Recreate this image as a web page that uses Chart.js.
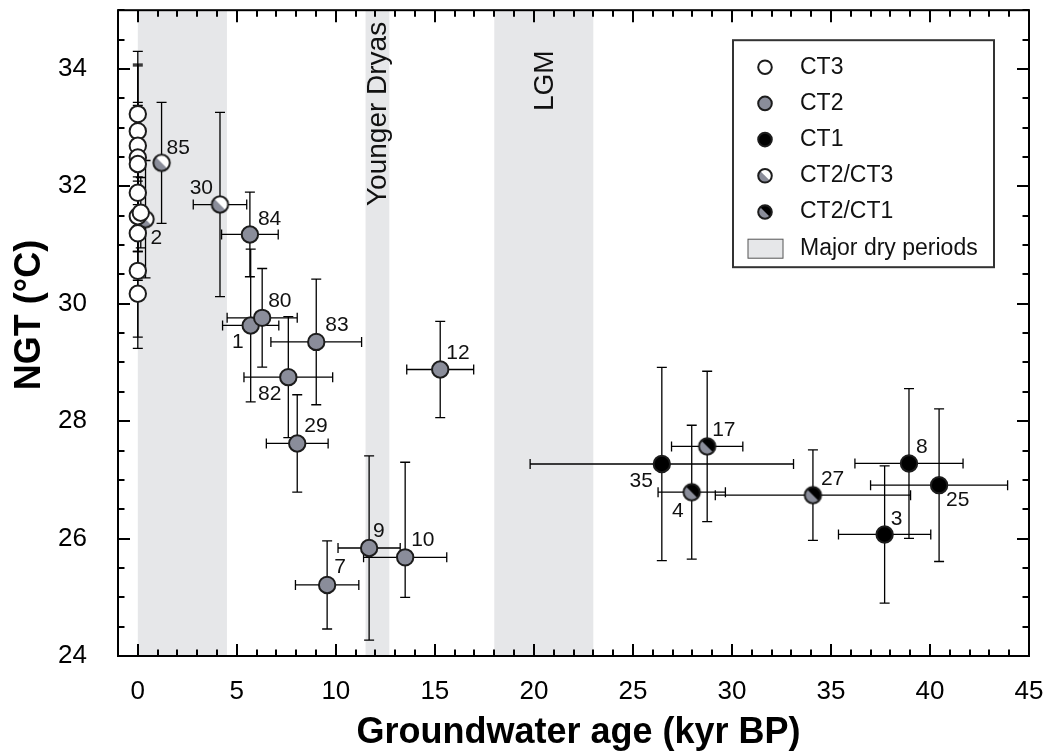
<!DOCTYPE html>
<html>
<head>
<meta charset="utf-8">
<title>NGT vs groundwater age</title>
<script src="https://cdn.jsdelivr.net/npm/chart.js@4/dist/chart.umd.min.js"></script>
<style>
  html, body { margin: 0; padding: 0; background: #fff; }
</style>
</head>
<body>
<canvas id="ngt" width="1047" height="755"></canvas>
<script>
// axis ticks
const xTicks = [0, 5, 10, 15, 20, 25, 30, 35, 40, 45];
const yTicks = [24, 26, 28, 30, 32, 34];
const xTitle = "Groundwater age (kyr BP)";
const yTitle = "NGT (°C)";

// dry periods (kyr BP)
const bandStart = [0, 11.5, 18];
const bandEnd = [4.5, 12.7, 23];
const bandLabel = ["", "Younger Dryas", "LGM"];

// CT3
const ct3Age = [0, 0, 0, 0, 0, 0, 0, 0.15, 0, 0, 0];
const ct3Ngt = [33.23, 32.94, 32.69, 32.49, 32.38, 31.89, 31.49, 31.55, 31.20, 30.56, 30.17];
const ct3AgeErr = [0, 0, 0, 0, 0, 0, 0, 0, 0, 0, 0];
const ct3NgtErr = [1.07, 1.14, 1.36, 0.94, 1.0, 1.0, 0.6, 0.6, 0.8, 1.13, 0.93];
const ct3Label = ["", "", "", "", "", "", "", "", "", "", ""];

// CT2
const ct2Age = [5.66, 5.70, 6.28, 9.01, 7.60, 8.05, 15.27, 9.56, 11.68, 13.5];
const ct2Ngt = [31.18, 29.63, 29.76, 29.35, 28.75, 27.62, 28.88, 25.21, 25.84, 25.68];
const ct2AgeErr = [1.43, 1.42, 1.77, 2.29, 2.24, 1.56, 1.69, 1.6, 1.57, 2.1];
const ct2NgtErr = [0.72, 1.30, 0.84, 1.07, 1.03, 0.83, 0.82, 0.75, 1.57, 1.62];
const ct2NgtErrLow = [0.72, 1.30, 0.84, 1.07, 1.03, 0.83, 0.82, 0.75, 1.57, 0.68];
const ct2Label = ["84", "1", "80", "83", "82", "29", "12", "7", "9", "10"];

// CT1
const ct1Age = [26.46, 37.71, 38.94, 40.46];
const ct1Ngt = [27.27, 26.07, 27.28, 26.91];
const ct1AgeErr = [6.65, 2.33, 2.73, 3.46];
const ct1NgtErr = [1.645, 1.17, 1.275, 1.3];
const ct1Label = ["35", "3", "8", "25"];

// CT2/CT3
const ct23Age = [1.20, 0.39, 4.15];
const ct23Ngt = [32.40, 31.44, 31.69];
const ct23AgeErr = [0, 0, 1.35];
const ct23NgtErr = [1.03, 1.0, 1.57];
const ct23Label = ["85", "2", "30"];

// CT2/CT1
const ct21Age = [28.75, 27.97, 34.09];
const ct21Ngt = [27.57, 26.79, 26.74];
const ct21AgeErr = [1.8, 1.7, 4.93];
const ct21NgtErr = [1.28, 1.14, 0.77];
const ct21Label = ["17", "4", "27"];

// label placement next to each point: dx, dy, align
const labelOffset = {
  "85": [5, -15, "left"], "2": [5, 19, "left"], "30": [-7, -16, "right"],
  "84": [8, -15, "left"], "1": [-7, 17, "right"], "80": [6, -17, "left"],
  "83": [9, -17, "left"], "82": [-7, 17, "right"], "29": [7, -17, "left"],
  "12": [6, -16, "left"], "7": [7, -18, "left"], "9": [4, -17, "left"],
  "10": [6, -17, "left"], "35": [-9, 17, "right"], "17": [5, -16, "left"],
  "4": [-8, 19, "right"], "27": [8, -16, "left"], "3": [6, -15, "left"],
  "8": [7, -16, "left"], "25": [7, 15, "left"]
};

const FONT = '"Liberation Sans", Arial, sans-serif';
const GREY = "#8a8d9a";
const EDGE = "#1c1c1c";
const SHADE = "#e6e7e9";

function drawMarker(ctx, x, y, r, lower, upper) {
  ctx.save();
  ctx.beginPath();
  ctx.arc(x, y, r, 0, Math.PI * 2);
  ctx.fillStyle = lower;
  ctx.fill();
  if (upper !== lower) {
    ctx.save();
    ctx.clip();
    ctx.beginPath();
    ctx.moveTo(x - r - 1, y - r - 1);
    ctx.lineTo(x + r + 1, y - r - 1);
    ctx.lineTo(x + r + 1, y + r + 1);
    ctx.closePath();
    ctx.fillStyle = upper;
    ctx.fill();
    ctx.restore();
  }
  ctx.beginPath();
  ctx.arc(x, y, r, 0, Math.PI * 2);
  ctx.lineWidth = 2;
  ctx.strokeStyle = EDGE;
  ctx.stroke();
  ctx.restore();
}

function splitMarker(lower, upper) {
  const c = document.createElement("canvas");
  c.width = 21; c.height = 21;
  drawMarker(c.getContext("2d"), 10.5, 10.5, 8.2, lower, upper);
  return c;
}

function makeSet(name, ages, ngts, ageErr, ngtErr, labels, fill, style, ngtErrLow) {
  return {
    label: name,
    data: ages.map((a, i) => ({ x: a, y: ngts[i] })),
    errX: ageErr, errY: ngtErr, errYLow: ngtErrLow || ngtErr, labels: labels,
    pointStyle: style || "circle",
    pointRadius: 8.2,
    pointBorderWidth: 2,
    pointBackgroundColor: fill,
    pointBorderColor: EDGE,
    clip: false
  };
}

const legendItems = [
  ["CT3", "#fff", "#fff"],
  ["CT2", GREY, GREY],
  ["CT1", "#000", "#000"],
  ["CT2/CT3", GREY, "#fff"],
  ["CT2/CT1", GREY, "#000"]
];

const bands = {
  id: "bands",
  beforeDatasetsDraw(chart) {
    const { ctx, chartArea, scales } = chart;
    ctx.save();
    for (let i = 0; i < bandStart.length; i++) {
      const x0 = scales.x.getPixelForValue(bandStart[i]);
      const x1 = scales.x.getPixelForValue(bandEnd[i]);
      ctx.fillStyle = SHADE;
      ctx.fillRect(x0, chartArea.top, x1 - x0, chartArea.bottom - chartArea.top);
      if (bandLabel[i]) {
        ctx.save();
        ctx.translate((x0 + x1) / 2, bandLabel[i] === "LGM" ? 111 : 206);
        ctx.rotate(-Math.PI / 2);
        ctx.fillStyle = "#111";
        ctx.font = "28px " + FONT;
        ctx.textAlign = "left";
        ctx.textBaseline = "middle";
        ctx.fillText(bandLabel[i], 0, 1);
        ctx.restore();
      }
    }
    // error bars
    ctx.strokeStyle = "#000";
    ctx.lineWidth = 1.3;
    chart.data.datasets.forEach((ds, di) => {
      ds.data.forEach((p, j) => {
        const xs = scales.x, ys = scales.y;
        const px = xs.getPixelForValue(p.x), py = ys.getPixelForValue(p.y);
        ctx.beginPath();
        if (ds.errY[j]) {
          const t = ys.getPixelForValue(p.y + ds.errY[j]);
          const b = ys.getPixelForValue(p.y - ds.errYLow[j]);
          ctx.moveTo(px, t); ctx.lineTo(px, b);
          ctx.moveTo(px - 5, t); ctx.lineTo(px + 5, t);
          ctx.moveTo(px - 5, b); ctx.lineTo(px + 5, b);
        }
        if (ds.errX[j]) {
          const l = xs.getPixelForValue(p.x - ds.errX[j]);
          const r = xs.getPixelForValue(p.x + ds.errX[j]);
          ctx.moveTo(l, py); ctx.lineTo(r, py);
          ctx.moveTo(l, py - 5); ctx.lineTo(l, py + 5);
          ctx.moveTo(r, py - 5); ctx.lineTo(r, py + 5);
        }
        ctx.stroke();
      });
    });
    ctx.restore();
  },
  afterDatasetsDraw(chart) {
    const { ctx } = chart;
    ctx.save();
    ctx.font = "21px " + FONT;
    ctx.fillStyle = "#111";
    ctx.textBaseline = "middle";
    chart.data.datasets.forEach((ds, di) => {
      const meta = chart.getDatasetMeta(di);
      ds.labels.forEach((txt, j) => {
        if (!txt) return;
        const off = labelOffset[txt] || [6, -16, "left"];
        const el = meta.data[j];
        ctx.textAlign = off[2];
        ctx.fillText(txt, el.x + off[0], el.y + off[1]);
      });
    });
    ctx.restore();
  }
};

const frame = {
  id: "frame",
  afterDraw(chart) {
    const { ctx, chartArea: a, scales } = chart;
    ctx.save();
    ctx.strokeStyle = "#000";
    ctx.lineWidth = 2;
    ctx.strokeRect(a.left, a.top, a.right - a.left, a.bottom - a.top);
    ctx.beginPath();
    for (let v = -1; v <= 45; v++) {
      const px = Math.round(scales.x.getPixelForValue(v));
      const len = v % 5 === 0 ? 12 : 6.5;
      ctx.moveTo(px, a.bottom); ctx.lineTo(px, a.bottom - len);
      ctx.moveTo(px, a.top); ctx.lineTo(px, a.top + len);
    }
    for (let v = 24; v <= 35; v += 0.5) {
      const py = Math.round(scales.y.getPixelForValue(v));
      const len = v % 2 === 0 ? 12 : 6.5;
      ctx.moveTo(a.left, py); ctx.lineTo(a.left + len, py);
      ctx.moveTo(a.right, py); ctx.lineTo(a.right - len, py);
    }
    ctx.stroke();

    // legend
    const bx = a.right - 296, by = a.top + 30;
    ctx.fillStyle = "#fff";
    ctx.fillRect(bx, by, 261, 227);
    ctx.strokeStyle = "#333";
    ctx.lineWidth = 2;
    ctx.strokeRect(bx, by, 261, 227);
    ctx.font = "23px " + FONT;
    ctx.textAlign = "left";
    ctx.textBaseline = "middle";
    legendItems.forEach((it, i) => {
      const y = by + 27 + i * 36.2;
      drawMarker(ctx, bx + 32, y, 6.8, it[1], it[2]);
      ctx.fillStyle = "#111";
      ctx.fillText(it[0], bx + 67, y);
    });
    const ry = by + 27 + 5 * 36.2;
    ctx.fillStyle = SHADE;
    ctx.fillRect(bx + 15, ry - 9, 35, 19);
    ctx.strokeStyle = "#555";
    ctx.lineWidth = 1;
    ctx.strokeRect(bx + 15, ry - 9, 35, 19);
    ctx.fillStyle = "#111";
    ctx.fillText("Major dry periods", bx + 67, ry);

    // axis titles
    ctx.fillStyle = "#000";
    ctx.font = "bold 36px " + FONT;
    ctx.textAlign = "center";
    ctx.fillText(xTitle, (a.left + a.right) / 2 + 5, 733);
    ctx.translate(30, 315);
    ctx.rotate(-Math.PI / 2);
    ctx.fillText(yTitle, 0, 0);
    ctx.restore();
  }
};

new Chart(document.getElementById("ngt"), {
  type: "scatter",
  data: {
    datasets: [
      makeSet("CT3", ct3Age, ct3Ngt, ct3AgeErr, ct3NgtErr, ct3Label, "#fff"),
      makeSet("CT2/CT3", ct23Age, ct23Ngt, ct23AgeErr, ct23NgtErr, ct23Label, GREY, splitMarker(GREY, "#fff")),
      makeSet("CT2", ct2Age, ct2Ngt, ct2AgeErr, ct2NgtErr, ct2Label, GREY, null, ct2NgtErrLow),
      makeSet("CT2/CT1", ct21Age, ct21Ngt, ct21AgeErr, ct21NgtErr, ct21Label, GREY, splitMarker(GREY, "#000")),
      makeSet("CT1", ct1Age, ct1Ngt, ct1AgeErr, ct1NgtErr, ct1Label, "#000")
    ]
  },
  options: {
    responsive: false,
    animation: false,
    events: [],
    layout: { padding: { left: 0, top: 9, right: 18, bottom: 0 } },
    plugins: { legend: { display: false }, tooltip: { enabled: false } },
    scales: {
      x: {
        type: "linear", min: -1, max: 45,
        grid: { display: false }, border: { display: false },
        afterBuildTicks: s => { s.ticks = xTicks.map(v => ({ value: v })); },
        afterFit: s => { s.height = 99; s.paddingLeft = 0; s.paddingRight = 0; },
        ticks: { color: "#000", font: { size: 26, family: FONT }, padding: 12, maxRotation: 0 }
      },
      y: {
        type: "linear", min: 24, max: 35,
        grid: { display: false }, border: { display: false },
        afterBuildTicks: s => { s.ticks = yTicks.map(v => ({ value: v })); },
        afterFit: s => { s.width = 118; s.paddingTop = 0; s.paddingBottom = 0; },
        ticks: { color: "#000", font: { size: 26, family: FONT }, padding: 23 }
      }
    }
  },
  plugins: [bands, frame]
});
</script>
</body>
</html>
